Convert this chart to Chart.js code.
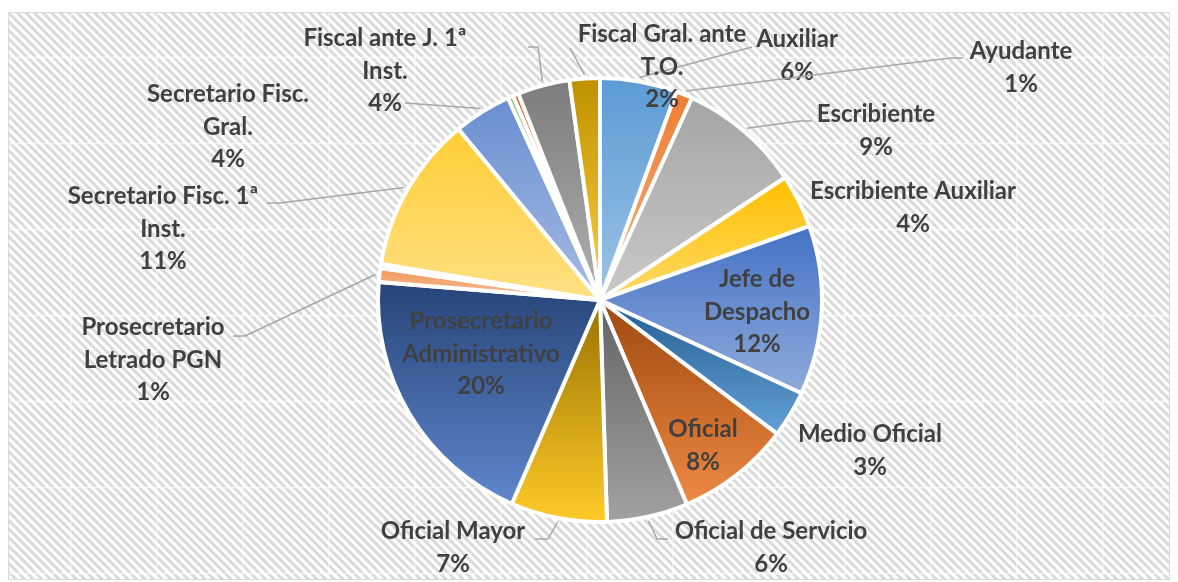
<!DOCTYPE html>
<html>
<head>
<meta charset="utf-8">
<script src="https://cdn.jsdelivr.net/npm/chart.js@4.4.0/dist/chart.umd.min.js"></script>
<style>
  html, body { margin: 0; padding: 0; background: #fff; }
  #wrap { width: 1178px; height: 582px; }
</style>
</head>
<body>
<div id="wrap"><canvas id="pieChart" width="1178" height="582"></canvas></div>
<script>
const categories = [
    "Auxiliar", "Ayudante", "Escribiente", "Escribiente Auxiliar", "Jefe de Despacho",
    "Medio Oficial", "Oficial", "Oficial de Servicio", "Oficial Mayor",
    "Prosecretario Administrativo", "Prosecretario Letrado PGN", "",
    "Secretario Fisc. 1ª Inst.", "Secretario Fisc. Gral.", "", "",
    "Fiscal ante J. 1ª Inst.", "Fiscal Gral. ante T.O."
];
const shares = [5.6, 1.2, 8.9, 3.9, 12.3, 3.4, 8.3, 5.9, 7.0, 19.8, 1.0, 0.3, 11.4, 4.2, 0.4, 0.4, 3.8, 2.2];
const sliceColors = [
    "#5B9BD5", "#ED7D31", "#A5A5A5", "#FFC000", "#4472C4", "#255E91", "#9E480E", "#636363", "#997300",
    "#264478", "#F1975A", "#B7B7B7", "#FFCD33", "#698ED0", "#8CC168", "#C55A11", "#7C7C7C", "#BF9000"
];

// where each label block sits, relative to the pie centre (px); split = words on the first line
// end / elbow = where the leader line meets the label
const labelLayout = [
    { dx: 197, dy: -244, split: 0, end: [152, -253] },
    { dx: 421, dy: -232, split: 0, end: [363, -242], elbow: [350, -242] },
    { dx: 276, dy: -169, split: 0, end: [212, -179], elbow: [200, -179] },
    { dx: 313, dy: -92, split: 0 },
    { dx: 157, dy: 12, split: 2 },
    { dx: 270, dy: 151, split: 0 },
    { dx: 103, dy: 146, split: 0 },
    { dx: 171, dy: 248, split: 0, end: [68, 239], elbow: [57, 239] },
    { dx: -147, dy: 248, split: 0, end: [-65, 239], elbow: [-52, 239] },
    { dx: -119, dy: 54, split: 1 },
    { dx: -447, dy: 60, split: 1, end: [-367, 36], elbow: [-355, 36] },
    null,
    { dx: -437, dy: -71, split: 3, end: [-333, -97], elbow: [-320, -97] },
    { dx: -372, dy: -173, split: 2, end: [-195, -197] },
    null,
    null,
    { dx: -215, dy: -229, split: 4, end: [-72, -253], elbow: [-62, -253] },
    { dx: 62, dy: -233, split: 3, end: [-30, -252] }
];

const LABEL_FONT = "bold 24px Lato";
const LINE_H = 32.5;
const TEXT_COLOR = "#404040";

function hexToHsl(hex) {
    const r = parseInt(hex.slice(1, 3), 16) / 255;
    const g = parseInt(hex.slice(3, 5), 16) / 255;
    const b = parseInt(hex.slice(5, 7), 16) / 255;
    const max = Math.max(r, g, b), min = Math.min(r, g, b);
    let h = 0, s = 0;
    const l = (max + min) / 2;
    if (max !== min) {
        const d = max - min;
        s = l > 0.5 ? d / (2 - max - min) : d / (max + min);
        if (max === r) h = (g - b) / d + (g < b ? 6 : 0);
        else if (max === g) h = (b - r) / d + 2;
        else h = (r - g) / d + 4;
        h /= 6;
    }
    return [h, s, l];
}

function lighten(hex, t) {
    const [h, s, l0] = hexToHsl(hex);
    const l = l0 + (1 - l0) * t;
    return "hsl(" + (h * 360).toFixed(1) + "," + (s * 100).toFixed(1) + "%," + (l * 100).toFixed(1) + "%)";
}

// vertical gradient over the bounding box of each slice, dark on top, lighter below
function sliceFill(c) {
    const chart = c.chart;
    const area = chart.chartArea;
    const i = c.dataIndex;
    const base = sliceColors[i];
    if (!area || i === undefined) return base;
    const ctrl = chart.getDatasetMeta(0).controller;
    const r = ctrl.outerRadius || Math.min(area.width, area.height) / 2;
    const cy = (area.top + area.bottom) / 2;
    const total = shares.reduce((a, b) => a + b, 0);
    let before = 0;
    for (let k = 0; k < i; k++) before += shares[k];
    const a0 = before / total * Math.PI * 2 - Math.PI / 2;
    const a1 = (before + shares[i]) / total * Math.PI * 2 - Math.PI / 2;
    let yMin = cy, yMax = cy;
    for (let s = 0; s <= 40; s++) {
        const y = cy + r * Math.sin(a0 + (a1 - a0) * s / 40);
        yMin = Math.min(yMin, y);
        yMax = Math.max(yMax, y);
    }
    if (yMax - yMin < 1) yMax = yMin + 1;
    const grad = chart.ctx.createLinearGradient(0, yMin, 0, yMax);
    grad.addColorStop(0, base);
    grad.addColorStop(1, lighten(base, 0.4));
    return grad;
}

function makeHatch(ctx) {
    const size = 86;
    const tile = document.createElement("canvas");
    tile.width = size;
    tile.height = size;
    const t = tile.getContext("2d");
    t.fillStyle = "#ffffff";
    t.fillRect(0, 0, size, size);
    t.strokeStyle = "#dadada";
    t.lineWidth = 3;
    const step = size / 10;
    for (let k = -12; k <= 22; k++) {
        const c = k * step;
        t.beginPath();
        t.moveTo(c, 0);
        t.lineTo(c + size, size);
        t.stroke();
    }
    t.fillStyle = "rgba(255,255,255,0.55)";
    t.fillRect(0, 0, size, 1.5);
    t.fillRect(0, 0, 1.5, size);
    const pat = ctx.createPattern(tile, "repeat");
    pat.setTransform(new DOMMatrix().translate(70, 57));
    return pat;
}

const frameBackground = {
    id: "frameBackground",
    beforeDraw(chart) {
        const ctx = chart.ctx;
        ctx.save();
        ctx.fillStyle = "#ffffff";
        ctx.fillRect(0, 0, chart.width, chart.height);
        ctx.fillStyle = makeHatch(ctx);
        ctx.fillRect(8, 12, 1162, 568);
        ctx.strokeStyle = "#d9d9d9";
        ctx.lineWidth = 1;
        ctx.strokeRect(8.5, 12.5, 1161, 567);
        ctx.restore();
    }
};

const pieLabels = {
    id: "pieLabels",
    afterDatasetsDraw(chart) {
        const ctx = chart.ctx;
        const arcs = chart.getDatasetMeta(0).data;
        const total = shares.reduce((a, b) => a + b, 0);
        ctx.save();
        ctx.font = LABEL_FONT;
        ctx.textAlign = "center";
        ctx.textBaseline = "middle";
        arcs.forEach((arc, i) => {
            const lay = labelLayout[i];
            if (!lay) return;
            const p = arc.getProps(["x", "y", "startAngle", "endAngle", "outerRadius"], true);
            const cx = p.x, cy = p.y;

            if (lay.end) {
                const mid = (p.startAngle + p.endAngle) / 2;
                const rr = p.outerRadius + 4;
                ctx.beginPath();
                ctx.moveTo(cx + Math.cos(mid) * rr, cy + Math.sin(mid) * rr);
                if (lay.elbow) ctx.lineTo(cx + lay.elbow[0], cy + lay.elbow[1]);
                ctx.lineTo(cx + lay.end[0], cy + lay.end[1]);
                ctx.strokeStyle = "#a6a6a6";
                ctx.lineWidth = 1.5;
                ctx.stroke();
            }

            const words = categories[i].split(" ");
            const lines = lay.split ? [words.slice(0, lay.split).join(" "), words.slice(lay.split).join(" ")] : [categories[i]];
            lines.push(Math.round(shares[i] / total * 100) + "%");
            const top = cy + lay.dy - (lines.length - 1) * LINE_H / 2;
            ctx.fillStyle = TEXT_COLOR;
            lines.forEach((ln, k) => ctx.fillText(ln, cx + lay.dx, top + k * LINE_H));
        });
        ctx.restore();
    }
};

new Chart(document.getElementById("pieChart"), {
    type: "pie",
    data: {
        labels: categories,
        datasets: [{
            data: shares,
            backgroundColor: sliceFill,
            borderColor: "#ffffff",
            borderWidth: 4
        }]
    },
    options: {
        responsive: false,
        animation: false,
        layout: { padding: { left: 376, right: 354, top: 76, bottom: 58 } },
        plugins: {
            legend: { display: false },
            tooltip: { enabled: false }
        }
    },
    plugins: [frameBackground, pieLabels]
});
</script>
</body>
</html>
